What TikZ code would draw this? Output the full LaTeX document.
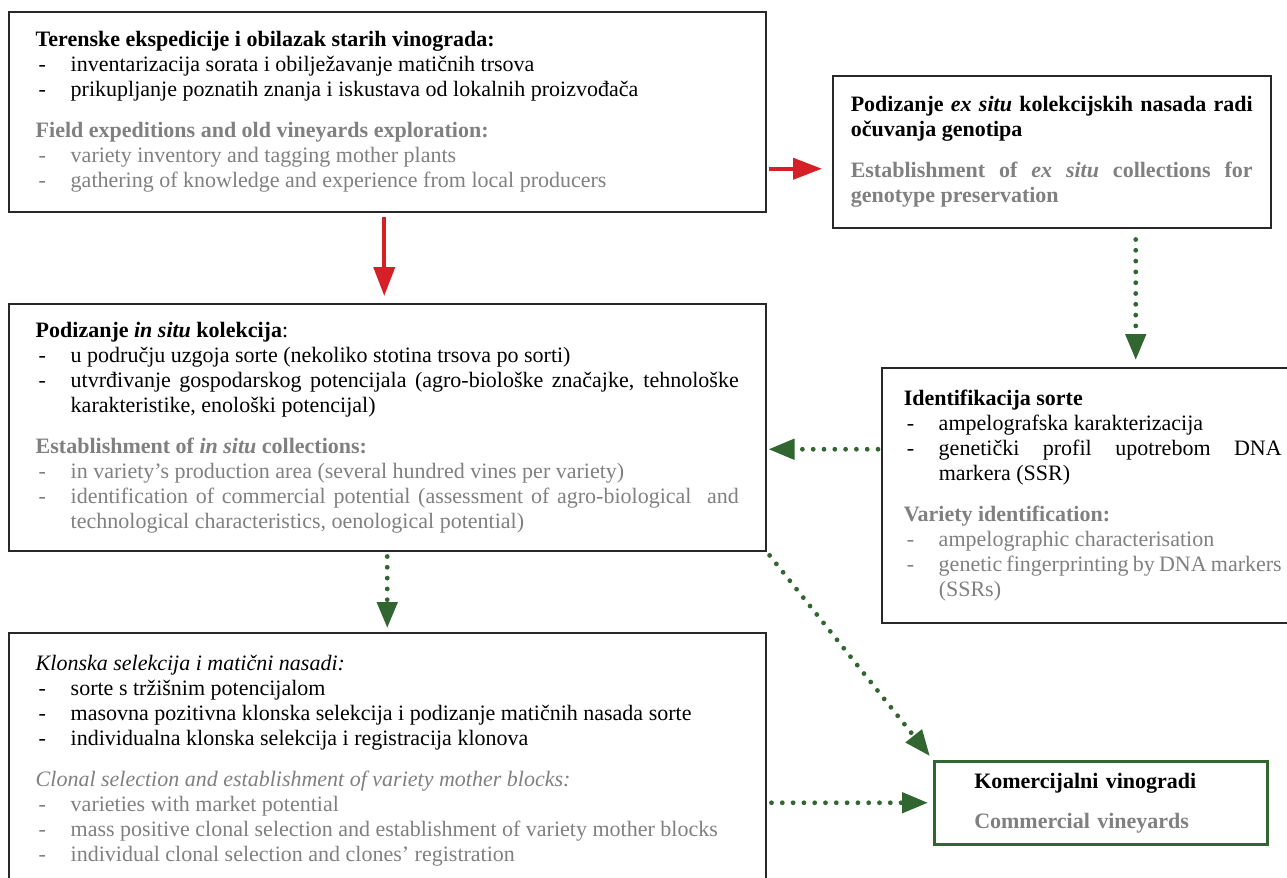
\documentclass[tikz,border=0pt]{standalone}
\usepackage{fontspec}
\setmainfont{Liberation Serif}
\usetikzlibrary{arrows.meta}

\definecolor{vinered}{RGB}{214,32,40}
\definecolor{vinegreen}{RGB}{50,102,48}
\definecolor{engray}{RGB}{128,128,128}
\definecolor{boxline}{RGB}{40,40,40}

% list item with a hanging dash
\newcommand{\itm}[1]{\par\hangindent=17.5pt\hangafter=1\noindent\makebox[17.5pt][l]{\hspace{1.5pt}-}#1\par}
\newcommand{\gap}{\par\vspace{8pt}}

\tikzset{
	stagebox/.style={draw=boxline, line width=0.75pt, rectangle, anchor=north west, inner sep=0pt, align=justify, font=\fontsize{11}{12.5}\selectfont},
	redarrow/.style={vinered, line width=2pt, -{Triangle[length=14.5pt,width=10.5pt]}},
	dotarrow/.style={vinegreen, line width=2.4pt, line cap=round, dash pattern=on 0pt off 5.4pt, -{Triangle[length=13pt,width=10pt]}}
}

\begin{document}
\begin{tikzpicture}[x=0.5pt, y=-0.5pt]
	\useasboundingbox (0,0) rectangle (1287,878);
	
	% Field expeditions
	\node[stagebox, minimum width=378.5pt, minimum height=100pt, text width=351.5pt] (field) at (8,11) {%
		{\bfseries Terenske ekspedicije i obilazak starih vinograda:}
		\itm{inventarizacija sorata i obilježavanje matičnih trsova}
		\itm{prikupljanje poznatih znanja i iskustava od lokalnih proizvođača}
		\gap\color{engray}
		{\bfseries Field expeditions and old vineyards exploration:}
		\itm{variety inventory and tagging mother plants}
		\itm{gathering of knowledge and experience from local producers}};
	
	% Ex situ collections
	\node[stagebox, minimum width=219pt, minimum height=76pt, text width=201pt] (exsitu) at (832,75) {%
		{\bfseries Podizanje \textit{ex situ} kolekcijskih nasada radi\linebreak očuvanja genotipa}
		\gap\color{engray}
		{\bfseries Establishment of \textit{ex situ} collections for\linebreak genotype preservation}\par};
	
	% In situ collections
	\node[stagebox, minimum width=378.5pt, minimum height=123.5pt, text width=351.5pt] (insitu) at (8,303) {%
		{\bfseries Podizanje \textit{in situ} kolekcija}:
		\itm{u području uzgoja sorte (nekoliko stotina trsova po sorti)}
		\itm{utvrđivanje gospodarskog potencijala (agro-biološke značajke, tehnološke\linebreak karakteristike, enološki potencijal)}
		\gap\color{engray}
		{\bfseries Establishment of \textit{in situ} collections:}
		\itm{in variety’s production area (several hundred vines per variety)}
		\itm{identification of commercial potential (assessment of agro-biological\ \ and\linebreak technological characteristics, oenological potential)}};
	
	% Variety identification
	\node[stagebox, minimum width=211pt, minimum height=127.5pt, text width=189pt] (ident) at (881,367) {%
		{\bfseries Identifikacija sorte}
		\itm{ampelografska karakterizacija}
		\itm{genetički profil upotrebom DNA\linebreak markera (SSR)}
		\gap\color{engray}
		{\bfseries Variety identification:}
		\itm{ampelographic characterisation}
		\itm{genetic fingerprinting by DNA markers\linebreak (SSRs)}};
	
	% Clonal selection
	\node[stagebox, minimum width=378.5pt, minimum height=127.5pt, text width=351.5pt] (clonal) at (8,632) {%
		\textit{Klonska selekcija i matični nasadi:}
		\itm{sorte s tržišnim potencijalom}
		\itm{masovna pozitivna klonska selekcija i podizanje matičnih nasada sorte}
		\itm{individualna klonska selekcija i registracija klonova}
		\gap\color{engray}
		\textit{Clonal selection and establishment of variety mother blocks:}
		\itm{varieties with market potential}
		\itm{mass positive clonal selection and establishment of variety mother blocks}
		\itm{individual clonal selection and clones’ registration}};
	
	% Commercial vineyards
	\node[stagebox, draw=vinegreen, line width=1.25pt, align=left, minimum width=166.5pt, minimum height=41.5pt, text width=126.5pt] (commercial) at (933,760) {%
		{\bfseries Komercijalni vinogradi}
		\par\vspace{7.5pt}
		{\color{engray}\bfseries Commercial vineyards}};
	
	% Red arrows
	\draw[redarrow, shorten <=1pt, shorten >=5pt] ([yshift=-28.5pt]field.east) -- ([yshift=-28.5pt]field.east -| exsitu.west);
	\draw[redarrow, shorten <=2pt, shorten >=3.5pt] ([xshift=-1.5pt]field.south) -- ([xshift=-1.5pt]insitu.north);
	
	% Green dotted arrows
	\draw[dotarrow, shorten <=5.5pt, shorten >=3.5pt] ([xshift=42pt]exsitu.south) -- ([xshift=42pt]exsitu.south |- ident.north);
	\draw[dotarrow, shorten <=1.5pt, shorten >=1pt] ([yshift=23pt]ident.west) -- ([yshift=23pt]ident.west -| insitu.east);
	\draw[dotarrow, shorten <=2.5pt, shorten >=2pt] (insitu.south) -- (clonal.north);
	\draw[dotarrow, shorten <=2.5pt, shorten >=2.5pt] (insitu.south east) -- (commercial.north west);
	\draw[dotarrow, shorten <=2.5pt, shorten >=2.5pt] (clonal.east |- commercial.west) -- (commercial.west);
\end{tikzpicture}
\end{document}
